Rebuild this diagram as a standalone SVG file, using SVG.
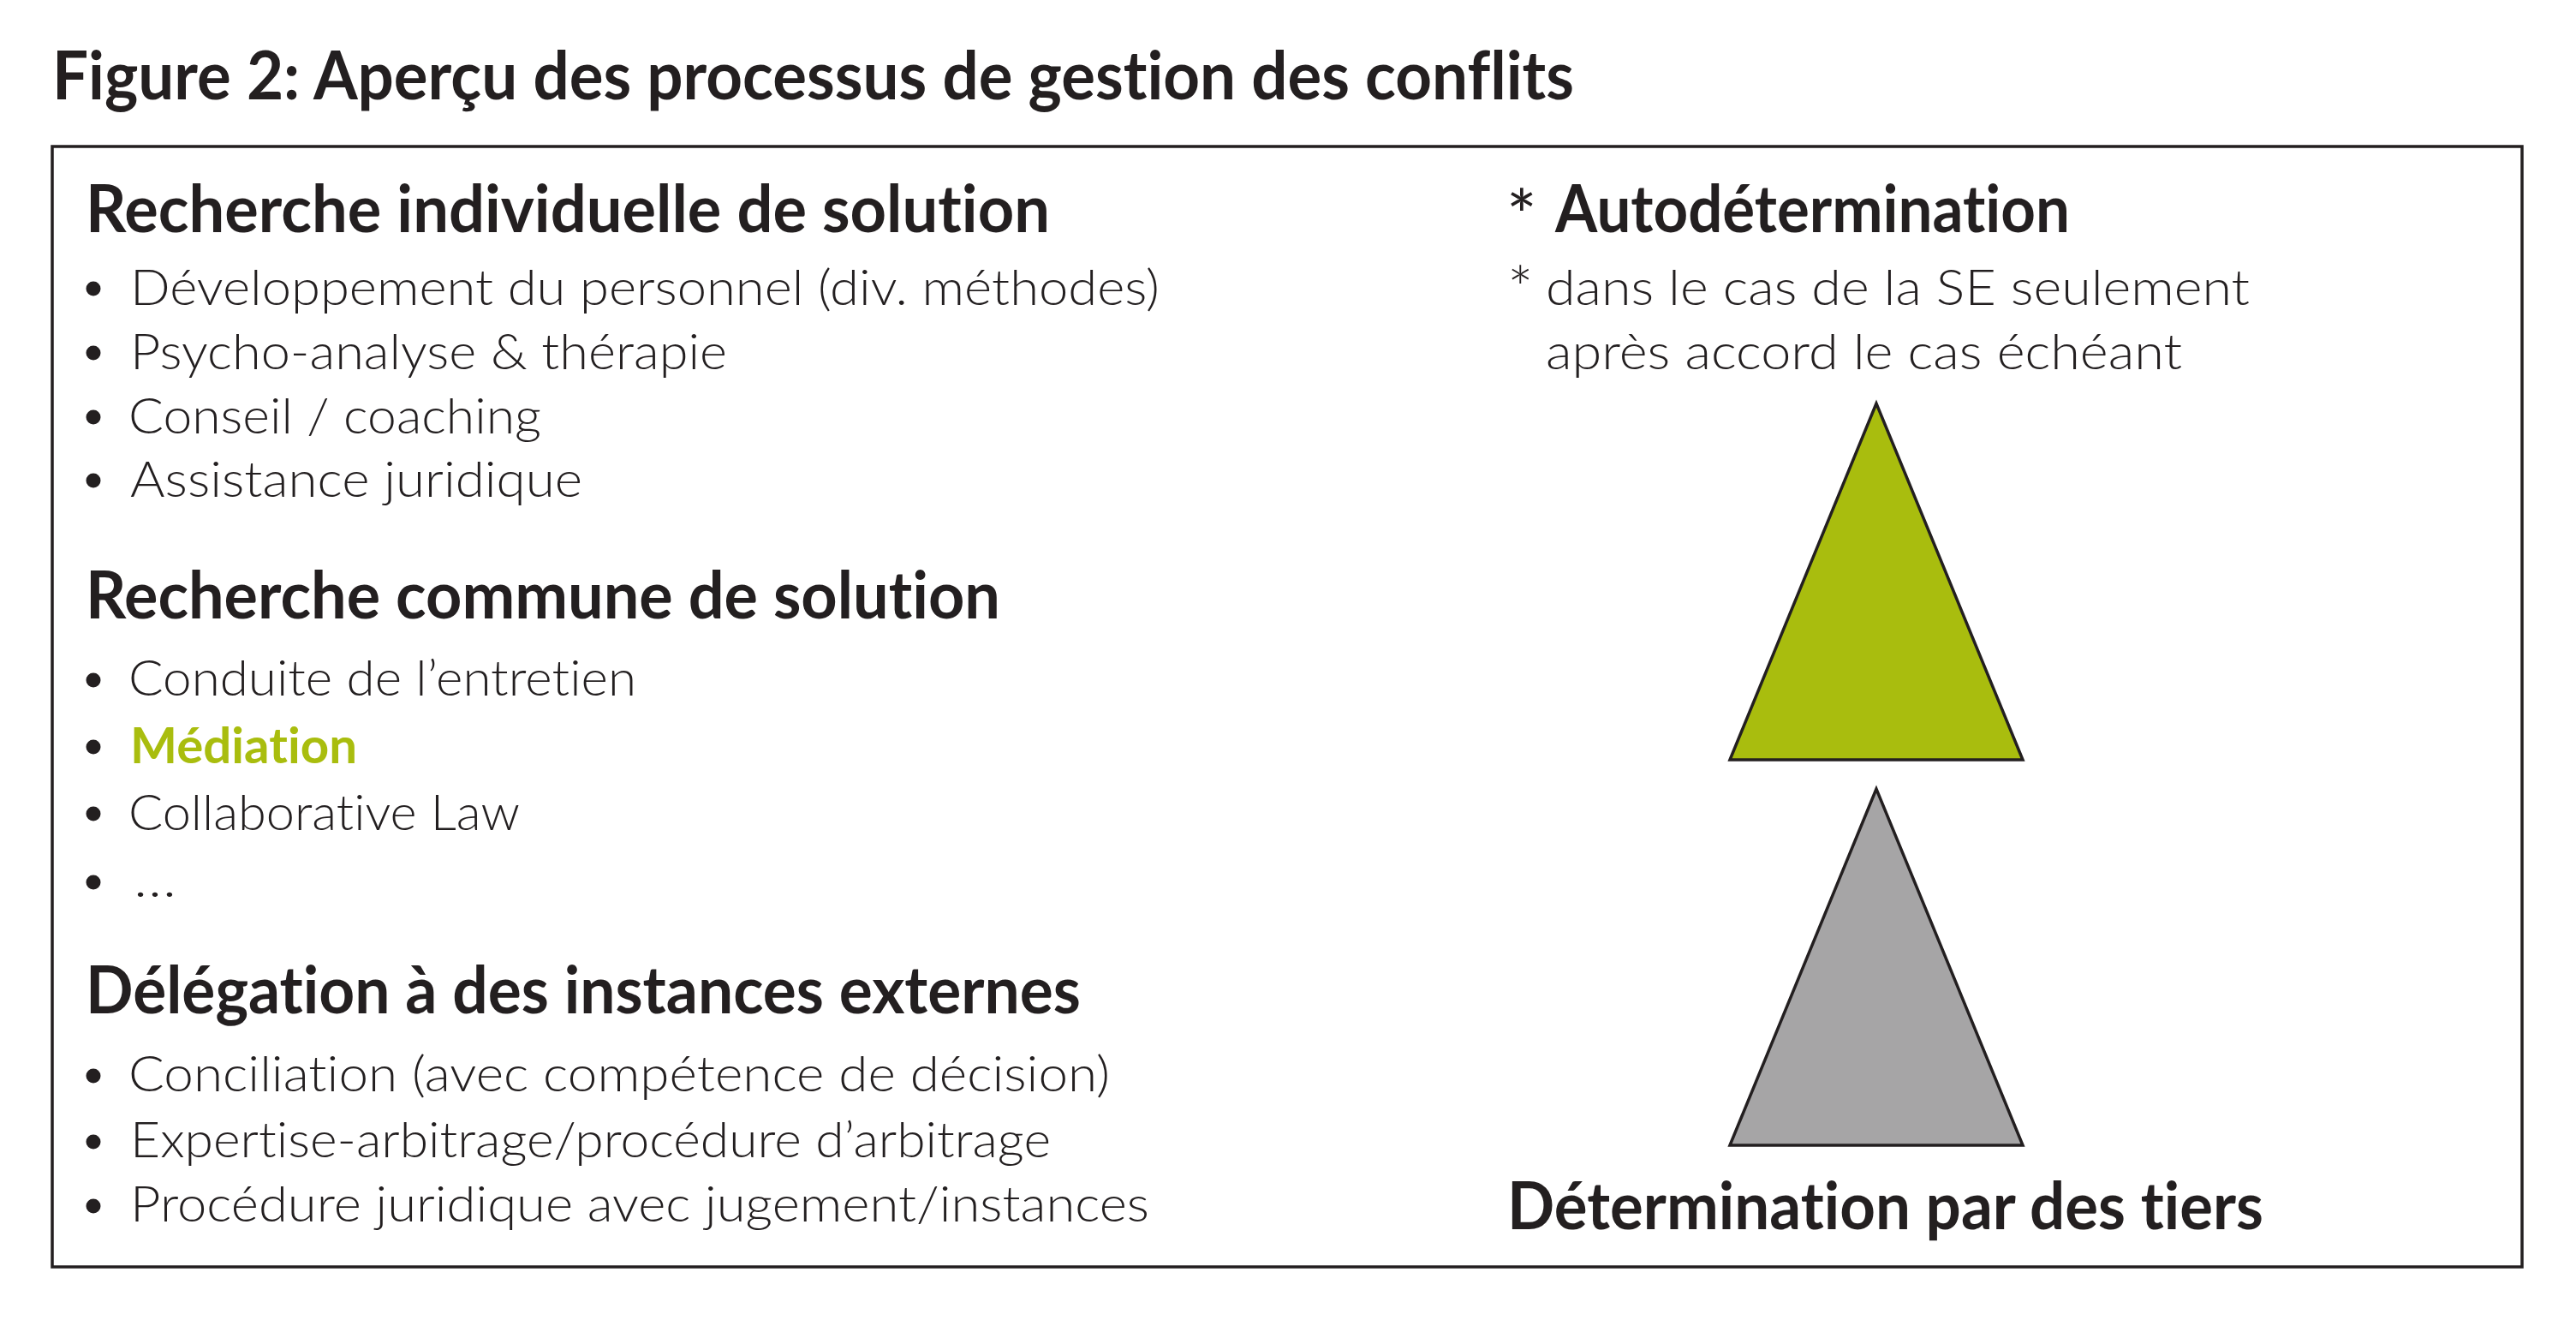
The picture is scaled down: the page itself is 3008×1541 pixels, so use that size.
<svg xmlns="http://www.w3.org/2000/svg" width="3008" height="1541" viewBox="0 0 3008 1541">
<style>
  text { font-family: "Lato", "Liberation Sans", "DejaVu Sans", sans-serif; fill: #231f20; font-variant-ligatures: none; font-feature-settings: "liga" 0, "clig" 0, "dlig" 0; }
  .title { font-size: 78px; font-weight: 700; }
  .head { font-size: 76px; font-weight: 700; }
  .item { font-size: 57px; font-weight: 300; }
  .ast1 { font-size: 84px; font-weight: 400; }
  .ast2 { font-size: 72px; font-weight: 300; }
  .green { fill: #a9bd0e; font-weight: 700; }
  .bullet { fill: #231f20; }
  .frame { fill: none; stroke: #231f20; stroke-width: 3.5; }
  .tri { stroke: #231f20; stroke-width: 3.5; stroke-linejoin: miter; }
</style>
<rect width="3008" height="1541" fill="#ffffff"/>

<g id="title">
  <text class="title" x="61" y="116" textLength="1777" lengthAdjust="spacingAndGlyphs">Figure 2: Aperçu des processus de gestion des conflits</text>
</g>

<g id="frame">
  <rect class="frame" x="61" y="171" width="2884" height="1308"/>
</g>

<g id="recherche-individuelle">
  <text class="head" x="100" y="271" textLength="1126" lengthAdjust="spacingAndGlyphs">Recherche individuelle de solution</text>
  <circle class="bullet" cx="109" cy="337" r="8.5"/>
  <text class="item" x="152" y="356" textLength="1202" lengthAdjust="spacingAndGlyphs">Développement du personnel (div. méthodes)</text>
  <circle class="bullet" cx="109" cy="412" r="8.5"/>
  <text class="item" x="152" y="431" textLength="697" lengthAdjust="spacingAndGlyphs">Psycho-analyse &amp; thérapie</text>
  <circle class="bullet" cx="109" cy="487" r="8.5"/>
  <text class="item" x="150" y="506" textLength="482" lengthAdjust="spacingAndGlyphs">Conseil / coaching</text>
  <circle class="bullet" cx="109" cy="561" r="8.5"/>
  <text class="item" x="152" y="580" textLength="528" lengthAdjust="spacingAndGlyphs">Assistance juridique</text>
</g>

<g id="recherche-commune">
  <text class="head" x="100" y="722" textLength="1068" lengthAdjust="spacingAndGlyphs">Recherche commune de solution</text>
  <circle class="bullet" cx="109" cy="794" r="8.5"/>
  <text class="item" x="150" y="812" textLength="593" lengthAdjust="spacingAndGlyphs">Conduite de l’entretien</text>
  <circle class="bullet" cx="109" cy="872" r="8.5"/>
  <text class="item green" x="152" y="891" textLength="265" lengthAdjust="spacingAndGlyphs">Médiation</text>
  <circle class="bullet" cx="109" cy="950" r="8.5"/>
  <text class="item" x="150" y="969" textLength="457" lengthAdjust="spacingAndGlyphs">Collaborative Law</text>
  <circle class="bullet" cx="109" cy="1030" r="8.5"/>
  <text class="item" x="156" y="1047" textLength="50" lengthAdjust="spacingAndGlyphs">…</text>
</g>

<g id="delegation">
  <text class="head" x="100" y="1183" textLength="1162" lengthAdjust="spacingAndGlyphs">Délégation à des instances externes</text>
  <circle class="bullet" cx="109" cy="1256" r="8.5"/>
  <text class="item" x="150" y="1274" textLength="1146" lengthAdjust="spacingAndGlyphs">Conciliation (avec compétence de décision)</text>
  <circle class="bullet" cx="109" cy="1333" r="8.5"/>
  <text class="item" x="152" y="1351" textLength="1075" lengthAdjust="spacingAndGlyphs">Expertise-arbitrage/procédure d’arbitrage</text>
  <circle class="bullet" cx="109" cy="1408" r="8.5"/>
  <text class="item" x="152" y="1426" textLength="1190" lengthAdjust="spacingAndGlyphs">Procédure juridique avec jugement/instances</text>
</g>

<g id="autodetermination">
  <text class="ast1" x="1759" y="282">*</text>
  <text class="head" x="1816" y="271" textLength="601" lengthAdjust="spacingAndGlyphs">Autodétermination</text>
  <text class="ast2" x="1760" y="364">*</text>
  <text class="item" x="1805" y="356" textLength="822" lengthAdjust="spacingAndGlyphs">dans le cas de la SE seulement</text>
  <text class="item" x="1805" y="431" textLength="743" lengthAdjust="spacingAndGlyphs">après accord le cas échéant</text>
</g>

<g id="triangle-green">
  <polygon class="tri" points="2191,471 2020,887 2362,887" fill="#a9bd0e"/>
</g>

<g id="triangle-grey">
  <polygon class="tri" points="2191,921 2020,1337 2362,1337" fill="#a6a5a6"/>
</g>

<g id="determination-tiers">
  <text class="head" x="1760" y="1435" textLength="883" lengthAdjust="spacingAndGlyphs">Détermination par des tiers</text>
</g>
</svg>
